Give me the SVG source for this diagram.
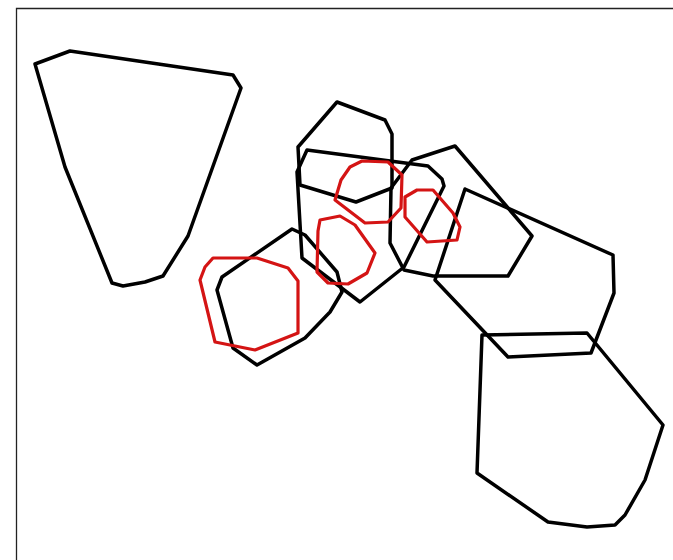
<svg xmlns="http://www.w3.org/2000/svg" width="673" height="560" viewBox="0 0 673 560">
<style>
.k{fill:none;stroke:#000;stroke-width:3.5;stroke-linejoin:round}
.r{fill:none;stroke:#d41414;stroke-width:3.2;stroke-linejoin:round}
</style>
<rect width="673" height="560" fill="#fff"/>
<path d="M16.5 560V8.5H673" fill="none" stroke="#222" stroke-width="1.3"/>
<g id="polyA"><polygon class="k" points="35,64 70,51 233,75 241,88 188,236 163,276 145,282 123,286 112,283 65,167"/></g>
<g id="polyB"><polygon class="k" points="298,147 337,102 385,120 392,134 392,188 356,202 300,185"/></g>
<g id="polyC"><polygon class="k" points="307,150 428,166 442,179 444,186 404,267 360,302 302,258 297,172"/></g>
<g id="polyD"><polygon class="k" points="412,160 455,146 532,236 508,276 433,276 404,270 390,243 391,188"/></g>
<g id="polyE"><polygon class="k" points="465,189 613,255 614,293 591,353 508,357 435,280"/></g>
<g id="polyF"><polygon class="k" points="292,229 305,235 337,272 342,292 330,312 305,338 257,365 233,348 217,290 222,277"/></g>
<g id="polyG"><polygon class="k" points="482,335 587,333 663,425 645,480 625,515 615,525 587,527 548,522 477,473"/></g>
<g id="red1"><polygon class="r" points="213,258 257,258 288,268 298,281 298,333 255,350 215,342 200,280 205,267"/></g>
<g id="red2"><polygon class="r" points="320,220 340,216 355,225 375,253 367,273 348,284 328,283 317,272 318,231"/></g>
<g id="red3"><polygon class="r" points="341,180 350,167 362,161 388,162 402,175 401,208 388,222 365,223 335,200"/></g>
<g id="red4"><polygon class="r" points="417,190 433,190 453,213 460,227 457,240 427,242 405,217 405,197"/></g>
<g id="connectors"/>
</svg>
